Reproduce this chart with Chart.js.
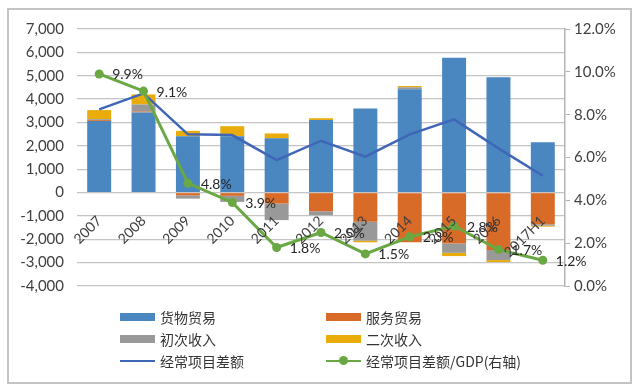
<!DOCTYPE html>
<html>
<head>
<meta charset="utf-8">
<script src="https://cdn.jsdelivr.net/npm/chart.js@4.4.1/dist/chart.umd.min.js"></script>
<style>
    html, body { margin: 0; padding: 0; background: #fff; }
    #wrap { position: relative; width: 638px; height: 391px; }
    #frame { position: absolute; left: 7px; top: 8px; width: 625px; height: 376px; box-sizing: border-box; border: 2px solid #c4c4c4; pointer-events: none; }
    #legend { position: absolute; left: 0; top: 0; width: 638px; height: 391px; pointer-events: none; font: 14px "Noto Sans CJK SC", sans-serif; color: #333; }
    .item { position: absolute; height: 18px; line-height: 18px; white-space: nowrap; }
    .sw { position: absolute; left: 0; top: 5px; width: 35px; height: 8px; }
    .ln { position: absolute; left: 0; top: 8px; width: 35px; height: 2px; }
    .dot { position: absolute; left: 13px; top: 4px; width: 9px; height: 9px; border-radius: 50%; }
    .txt { position: absolute; left: 40px; top: 0; }
</style>
</head>
<body>
<div id="wrap">
    <canvas id="chart" width="638" height="391"></canvas>
    <div id="legend"></div>
    <div id="frame"></div>
</div>
<script>
// 单位：亿美元
const years = ['2007', '2008', '2009', '2010', '2011', '2012', '2013', '2014', '2015', '2016', '2017H1'];
const goods = [3060, 3430, 2410, 2410, 2320, 3100, 3600, 4420, 5770, 4930, 2150];
const services = [40, 40, -120, -140, -470, -800, -1250, -2130, -2180, -2460, -1360];
const primaryIncome = [40, 300, -140, -260, -710, -170, -810, 85, -400, -430, -60];
const secondaryIncome = [390, 430, 230, 430, 210, 80, -70, 55, -140, -85, -40];
const currentAccount = [3560, 4245, 2490, 2460, 1390, 2218, 1533, 2490, 3133, 1892, 720];
const caToGdp = [9.9, 9.1, 4.8, 3.9, 1.8, 2.5, 1.5, 2.3, 2.8, 1.7, 1.2];

const leftTicks = { min: -4000, max: 7000, step: 1000 };
const rightTicks = { min: 0, max: 12, step: 2 };

const tickFont = { family: 'Lato', size: 15 };
const catFont = { family: 'Lato', size: 14 };
const tickColor = '#404040';

// percent labels to the right of the green points
const pctLabels = {
    id: 'pctLabels',
    afterDatasetsDraw(chart) {
        const meta = chart.getDatasetMeta(5);
        const ctx = chart.ctx;
        ctx.save();
        ctx.font = '14px Lato';
        ctx.fillStyle = '#262626';
        ctx.textAlign = 'left';
        ctx.textBaseline = 'middle';
        meta.data.forEach(function(pt, i) {
            ctx.fillText(caToGdp[i].toFixed(1) + '%', pt.x + 13, pt.y + 1);
        });
        ctx.restore();
    }
};

const ctx = document.getElementById('chart').getContext('2d');
const chart = new Chart(ctx, {
    type: 'bar',
    data: {
        labels: years,
        datasets: [
            { label: '货物贸易', data: goods, backgroundColor: '#4a86c0', stack: 'bop', order: 2 },
            { label: '服务贸易', data: services, backgroundColor: '#d86b28', stack: 'bop', order: 2 },
            { label: '初次收入', data: primaryIncome, backgroundColor: '#999999', stack: 'bop', order: 2 },
            { label: '二次收入', data: secondaryIncome, backgroundColor: '#e9ac0a', stack: 'bop', order: 2 },
            {
                label: '经常项目差额', type: 'line', data: currentAccount, stack: 'ca', order: 1,
                borderColor: '#4066b8', backgroundColor: '#4066b8', borderWidth: 2.5,
                pointRadius: 0, tension: 0
            },
            {
                label: '经常项目差额/GDP(右轴)', type: 'line', data: caToGdp, yAxisID: 'y1', order: 0,
                borderColor: '#6aa843', backgroundColor: '#6aa843', borderWidth: 3,
                pointRadius: 4.5, pointBackgroundColor: '#6aa843', pointBorderWidth: 0, tension: 0
            }
        ]
    },
    options: {
        responsive: false,
        animation: false,
        datasets: { bar: { barPercentage: 0.54, categoryPercentage: 1 } },
        layout: { padding: { left: 0, right: 0, top: 29, bottom: 105 } },
        plugins: { legend: { display: false }, tooltip: { enabled: false } },
        scales: {
            x: {
                position: { y: 0 },
                stacked: true,
                offset: true,
                grid: { display: false },
                border: { display: false },
                ticks: { z: 1, font: catFont, color: tickColor, minRotation: 45, maxRotation: 45, autoSkip: false, padding: 12 }
            },
            y: {
                stacked: true,
                min: leftTicks.min,
                max: leftTicks.max,
                afterFit: function(scale) { scale.width = 77; },
                grid: { color: '#c4c4c4', lineWidth: 1.2, drawTicks: false },
                border: { display: false },
                ticks: {
                    stepSize: leftTicks.step, font: tickFont, color: tickColor, padding: 13,
                    callback: function(v) { return v.toLocaleString('en-US'); }
                }
            },
            y1: {
                position: 'right',
                min: rightTicks.min,
                max: rightTicks.max,
                afterFit: function(scale) { scale.width = 73; },
                grid: { drawOnChartArea: false, color: '#b4b4b4', tickLength: 5 },
                border: { display: true, color: '#b4b4b4', width: 1.5 },
                ticks: {
                    stepSize: rightTicks.step, font: tickFont, color: tickColor, padding: 4,
                    callback: function(v) { return v.toFixed(1) + '%'; }
                }
            }
        }
    },
    plugins: [pctLabels]
});

// two-column legend below the plot
const legendBox = document.getElementById('legend');
const colX = [120, 326];
const rowY = [308, 330, 352];
chart.data.datasets.forEach(function(ds, i) {
    const item = document.createElement('div');
    item.className = 'item';
    item.style.left = colX[i % 2] + 'px';
    item.style.top = rowY[Math.floor(i / 2)] + 'px';
    let mark = '';
    if (ds.type === 'line') {
        mark = '<span class="ln" style="background:' + ds.borderColor + '"></span>';
        if (ds.pointRadius > 0) mark += '<span class="dot" style="background:' + ds.borderColor + '"></span>';
    } else {
        mark = '<span class="sw" style="background:' + ds.backgroundColor + '"></span>';
    }
    item.innerHTML = mark + '<span class="txt">' + ds.label + '</span>';
    legendBox.appendChild(item);
});
</script>
</body>
</html>
